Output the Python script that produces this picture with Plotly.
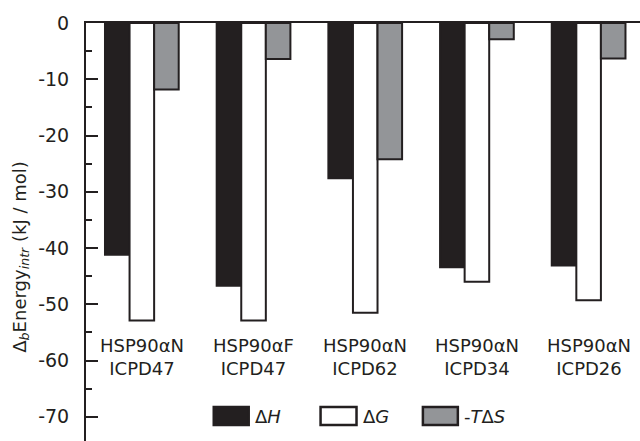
import plotly.graph_objects as go

categories = ["HSP90αN<br>ICPD47", "HSP90αF<br>ICPD47", "HSP90αN<br>ICPD62",
              "HSP90αN<br>ICPD34", "HSP90αN<br>ICPD26"]
dH = [-41.2, -46.7, -27.6, -43.4, -43.1]
dG = [-52.9, -52.9, -51.5, -46.0, -49.3]
mTdS = [-11.8, -6.4, -24.2, -2.9, -6.3]
series_names = ["Δ<i>H</i>", "Δ<i>G</i>", "-<i>T</i>Δ<i>S</i>"]
y_ticks = [0, -10, -20, -30, -40, -50, -60, -70]

INK = "#231f20"
GRAY = "#939598"
FONT = "DejaVu Sans"

x = list(range(len(categories)))
fills = [INK, "#ffffff", GRAY]
values = [dH, dG, mTdS]

fig = go.Figure()
for name, vals, fc in zip(series_names, values, fills):
    fig.add_trace(go.Bar(
        x=x, y=vals, name=name, showlegend=False,
        marker=dict(color=fc, line=dict(color=INK, width=2)),
    ))

# category labels inside the plot
for xi, lab in zip(x, categories):
    fig.add_annotation(x=xi, y=-59.4, xref="x", yref="y", text=lab,
                       showarrow=False, font=dict(family=FONT, size=18, color=INK),
                       align="center")

# custom legend
leg_y0, leg_y1 = 0.0382, 0.0813
leg_items = [(0.2306, 0.2937, INK), (0.4234, 0.4883, "#ffffff"), (0.6081, 0.6712, GRAY)]
for (x0, x1, fc), name in zip(leg_items, series_names):
    fig.add_shape(type="rect", xref="paper", yref="paper", x0=x0, x1=x1,
                  y0=leg_y0, y1=leg_y1, fillcolor=fc,
                  line=dict(color=INK, width=2.5))
    fig.add_annotation(xref="paper", yref="paper", x=x1 + 0.008, y=(leg_y0 + leg_y1) / 2,
                       xanchor="left", yanchor="middle", text=name, showarrow=False,
                       font=dict(family=FONT, size=18, color=INK))

# y axis title
fig.add_annotation(xref="paper", yref="paper", x=-0.118, y=0.44, textangle=-90,
                   xanchor="center", yanchor="middle", showarrow=False,
                   text="Δ<sub><i>b</i></sub>Energy<sub><i>intr</i></sub> (kJ / mol)",
                   font=dict(family=FONT, size=18, color=INK))

fig.update_layout(
    width=640, height=441,
    margin=dict(l=86, r=0, t=23, b=0, autoexpand=False),
    plot_bgcolor="white", paper_bgcolor="white",
    barmode="group", bargap=0.34, bargroupgap=0,
    font=dict(family=FONT, size=18, color=INK),
    xaxis=dict(range=[-0.5, 4.46], side="top", showline=True, linecolor=INK,
               linewidth=2, showticklabels=False, ticks="", showgrid=False,
               zeroline=False, automargin=False),
    yaxis=dict(range=[-74.3, 0], showline=True, linecolor=INK, linewidth=2,
               tickvals=y_ticks, ticktext=[str(v) for v in y_ticks],
               ticks="inside", ticklen=12, tickwidth=2, tickcolor=INK,
               ticklabelstandoff=11, automargin=False,
               minor=dict(dtick=5, ticks="inside", ticklen=6, tickwidth=2, tickcolor=INK),
               showgrid=False, zeroline=False,
               tickfont=dict(family=FONT, size=19, color=INK)),
)

fig.write_html("out.html", config={"displayModeBar": False},
               post_script="document.body.style.margin='0';document.body.style.overflow='hidden';")
